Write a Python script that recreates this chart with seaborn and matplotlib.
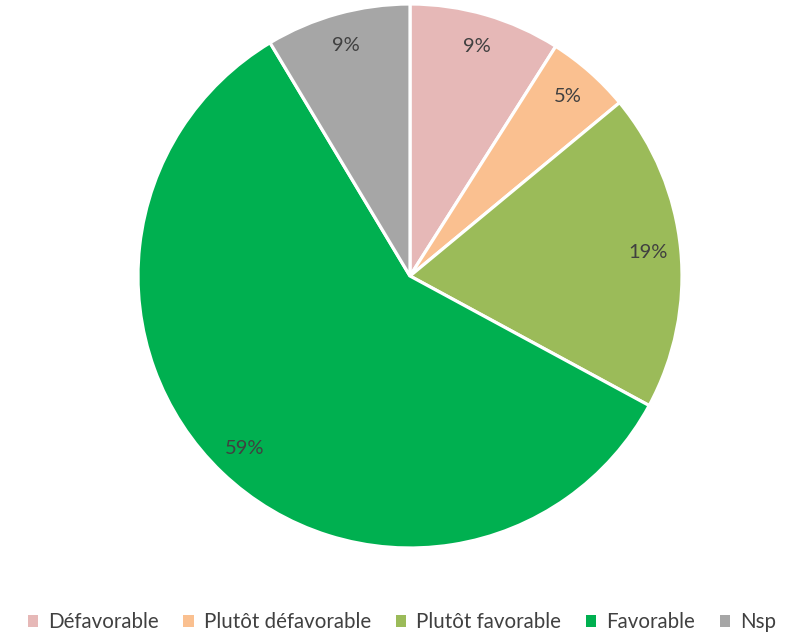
import matplotlib
matplotlib.use("Agg")
import matplotlib.pyplot as plt
from matplotlib.patches import Patch
import seaborn as sns

categories = ["Défavorable", "Plutôt défavorable", "Plutôt favorable", "Favorable", "Nsp"]
values = [9.0, 5.0, 18.9, 58.5, 8.6]
labels = ["9%", "5%", "19%", "59%", "9%"]
colors = ["#E6B8B7", "#FAC090", "#9BBB59", "#00B050", "#A6A6A6"]

sns.set_theme(style="white")
plt.rcParams["font.family"] = ["Lato", "DejaVu Sans"]

W, H = 792, 634
fig = plt.figure(figsize=(W / 100, H / 100), dpi=100)
cx, cy, r = 410, 276, 272
ax = fig.add_axes([(cx - r) / W, (H - cy - r) / H, 2 * r / W, 2 * r / H])

wedges, texts = ax.pie(
    values, colors=colors, startangle=90, counterclock=False,
    labels=labels, labeldistance=0.88, radius=1,
    wedgeprops=dict(edgecolor="white", linewidth=2.3),
    textprops=dict(color="#404040", fontsize=14.5),
)
for t in texts:
    t.set_horizontalalignment("center")
    t.set_verticalalignment("center")
ax.set_xlim(-1, 1)
ax.set_ylim(-1, 1)
ax.set_aspect("equal")
ax.axis("off")

handles = [Patch(facecolor=c, edgecolor="none") for c in colors]
fig.legend(handles, categories, loc="center", bbox_to_anchor=(402 / W, 1 - 622 / H),
           ncol=5, frameon=False, fontsize=14.8, labelcolor="#404040",
           handlelength=0.5, handleheight=0.5, handletextpad=0.5, columnspacing=1.2)

fig.savefig("out.png", dpi=100)
